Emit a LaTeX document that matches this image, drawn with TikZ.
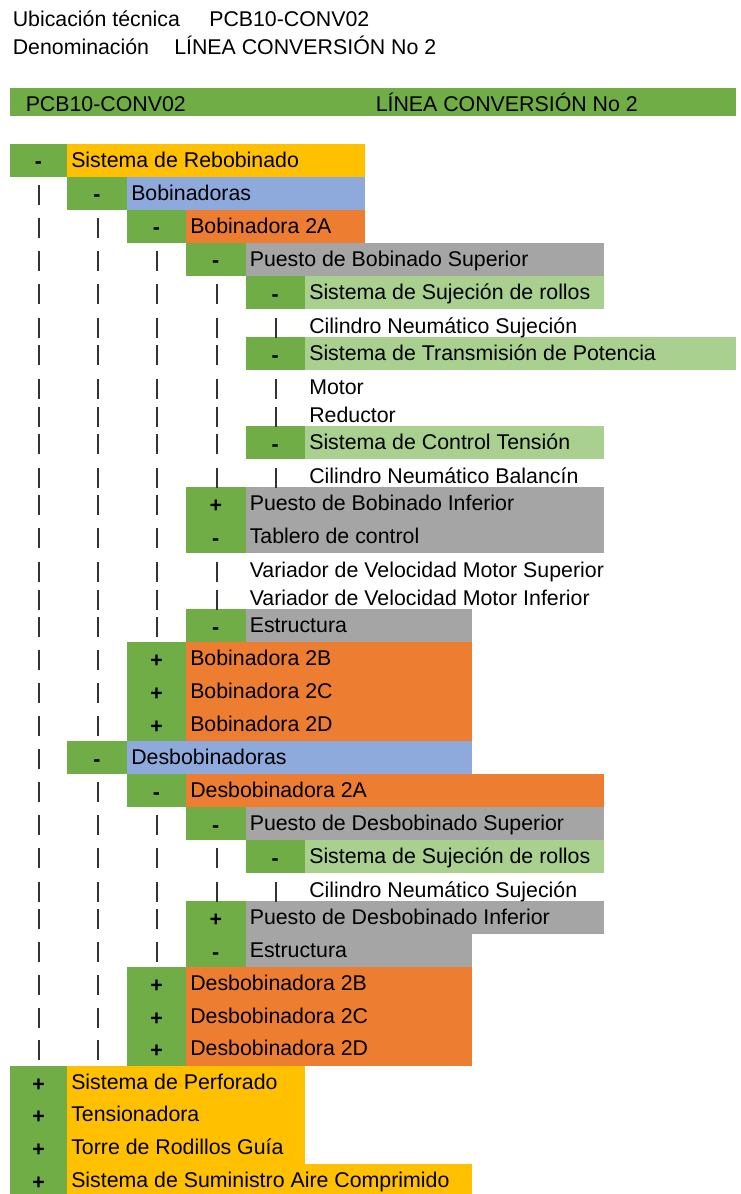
\documentclass[tikz,border=0pt]{standalone}
\usepackage{fontspec}
\setmainfont{Liberation Sans}
\usepackage{tikz}

\definecolor{pmgreen}{HTML}{70AD47}
\definecolor{sysyellow}{HTML}{FFC000}
\definecolor{grpblue}{HTML}{8EA9DB}
\definecolor{machorange}{HTML}{ED7D31}
\definecolor{postgray}{HTML}{A5A5A5}
\definecolor{subgreen}{HTML}{A9D08E}

\begin{document}
\begin{tikzpicture}[x=0.75pt, y=-0.75pt,
    font=\fontsize{16}{19}\selectfont,
    item/.style={anchor=base west, inner sep=0pt},
    sgn/.style={anchor=base, inner sep=0pt, font=\fontsize{16}{19}\selectfont\bfseries},
    bar/.style={draw=black!80, line width=1.2pt}]
                    \useasboundingbox (0,0) rectangle (740,1194);
                    % Title lines
                    \node[item] (ubic) at (12.5,26.7) {Ubicación técnica};
                    \node[item] (ubicval) at (209,26.7) {PCB10-CONV02};
                    \node[item] (denom) at (12.5,54.3) {Denominación};
                    \node[item] (denomval) at (174,54.3) {LÍNEA CONVERSIÓN No 2};
                    % Header bar
                    \fill[pmgreen] (10,88) rectangle (736,116);
                    \node[item] (code) at (25.5,111.7) {PCB10-CONV02};
                    \node[item] (line) at (375.5,111.7) {LÍNEA CONVERSIÓN No 2};
                    % Sign cells
                    \fill[pmgreen] (10,144) rectangle (67,177);
                    \fill[pmgreen] (67,177) rectangle (127,210);
                    \fill[pmgreen] (127,210) rectangle (186,243);
                    \fill[pmgreen] (186,243) rectangle (245.5,276);
                    \fill[pmgreen] (245.5,276) rectangle (305,309);
                    \fill[pmgreen] (245.5,337) rectangle (305,370);
                    \fill[pmgreen] (245.5,426) rectangle (305,459);
                    \fill[pmgreen] (186,487) rectangle (245.5,553);
                    \fill[pmgreen] (186,609) rectangle (245.5,642);
                    \fill[pmgreen] (127,642) rectangle (186,741);
                    \fill[pmgreen] (67,741) rectangle (127,774);
                    \fill[pmgreen] (127,774) rectangle (186,807);
                    \fill[pmgreen] (186,807) rectangle (245.5,840);
                    \fill[pmgreen] (245.5,840) rectangle (305,873);
                    \fill[pmgreen] (186,901) rectangle (245.5,967);
                    \fill[pmgreen] (127,967) rectangle (186,1066);
                    \fill[pmgreen] (10,1066) rectangle (67,1197);
                    % Name cells
                    \fill[sysyellow] (67,144) rectangle (365,177);
                    \fill[grpblue] (127,177) rectangle (365,210);
                    \fill[machorange] (186,210) rectangle (365,243);
                    \fill[postgray] (245.5,243) rectangle (604,276);
                    \fill[subgreen] (305,276) rectangle (604,309);
                    \fill[subgreen] (305,337) rectangle (736,370);
                    \fill[subgreen] (305,426) rectangle (604,459);
                    \fill[postgray] (245.5,487) rectangle (604,553);
                    \fill[postgray] (245.5,609) rectangle (472,642);
                    \fill[machorange] (186,642) rectangle (472,741);
                    \fill[grpblue] (127,741) rectangle (472,774);
                    \fill[machorange] (186,774) rectangle (604,807);
                    \fill[postgray] (245.5,807) rectangle (604,840);
                    \fill[subgreen] (305,840) rectangle (604,873);
                    \fill[postgray] (245.5,901) rectangle (472,967);
                    \fill[postgray] (245.5,901) rectangle (604,934);
                    \fill[machorange] (186,967) rectangle (472,1066);
                    \fill[sysyellow] (67,1066) rectangle (305,1164);
                    \fill[sysyellow] (67,1164) rectangle (472,1197);
                    % Tree bars
                    \foreach \b in {200.5,233.5,266.5,299.5,333,360.5,394,422,449.5,483,510.5,543.5,577,605,632.5,665.5,698.5,731.5,764.5,797.5,830.5,863.5,897,924.5,957.5,990.5,1023.5,1055.5}
                        \draw[bar] (38.7,\b-15.5) -- (38.7,\b+4.5);
                    \foreach \b in {233.5,266.5,299.5,333,360.5,394,422,449.5,483,510.5,543.5,577,605,632.5,665.5,698.5,731.5,797.5,830.5,863.5,897,924.5,957.5,990.5,1023.5,1055.5}
                        \draw[bar] (98,\b-15.5) -- (98,\b+4.5);
                    \foreach \b in {266.5,299.5,333,360.5,394,422,449.5,483,510.5,543.5,577,605,632.5,830.5,863.5,897,924.5,957.5}
                        \draw[bar] (157,\b-15.5) -- (157,\b+4.5);
                    \foreach \b in {299.5,333,360.5,394,422,449.5,483,577,605,863.5,897}
                        \draw[bar] (217,\b-15.5) -- (217,\b+4.5);
                    \foreach \b in {333,394,422,483,897}
                        \draw[bar] (276,\b-15.5) -- (276,\b+4.5);
                    % Bobinadoras
                    \node[sgn] (reb-s) at (38.5,169) {-};
                    \node[item] (reb) at (71,167.5) {Sistema de Rebobinado};
                    \node[sgn] (bob-s) at (97,202) {-};
                    \node[item] (bob) at (131,200.5) {Bobinadoras};
                    \node[sgn] (bob2a-s) at (156.5,235) {-};
                    \node[item] (bob2a) at (190,233.5) {Bobinadora 2A};
                    \node[sgn] (pbs-s) at (215.75,268) {-};
                    \node[item] (pbs) at (249.5,266.5) {Puesto de Bobinado Superior};
                    \node[sgn] (suj-s) at (275.25,301) {-};
                    \node[item] (suj) at (309,299.5) {Sistema de Sujeción de rollos};
                    \node[item] (cil) at (309,333) {Cilindro Neumático Sujeción};
                    \node[sgn] (trans-s) at (275.25,362) {-};
                    \node[item] (trans) at (309,360.5) {Sistema de Transmisión de Potencia};
                    \node[item] (motor) at (309,394) {Motor};
                    \node[item] (red) at (309,422) {Reductor};
                    \node[sgn] (tens-s) at (275.25,451) {-};
                    \node[item] (tens) at (309,449.5) {Sistema de Control Tensión};
                    \node[item] (bal) at (309,483) {Cilindro Neumático Balancín};
                    \node[sgn] (pbi-s) at (215.75,512) {+};
                    \node[item] (pbi) at (249.5,510.5) {Puesto de Bobinado Inferior};
                    \node[sgn] (tab-s) at (215.75,545) {-};
                    \node[item] (tab) at (249.5,543.5) {Tablero de control};
                    \node[item] (vsup) at (249.5,577) {Variador de Velocidad Motor Superior};
                    \node[item] (vinf) at (249.5,605) {Variador de Velocidad Motor Inferior};
                    \node[sgn] (est-s) at (215.75,634) {-};
                    \node[item] (est) at (249.5,632.5) {Estructura};
                    \node[sgn] (bob2b-s) at (156.5,667) {+};
                    \node[item] (bob2b) at (190,665.5) {Bobinadora 2B};
                    \node[sgn] (bob2c-s) at (156.5,700) {+};
                    \node[item] (bob2c) at (190,698.5) {Bobinadora 2C};
                    \node[sgn] (bob2d-s) at (156.5,733) {+};
                    \node[item] (bob2d) at (190,731.5) {Bobinadora 2D};
                    % Desbobinadoras
                    \node[sgn] (desb-s) at (97,766) {-};
                    \node[item] (desb) at (131,764.5) {Desbobinadoras};
                    \node[sgn] (desb2a-s) at (156.5,799) {-};
                    \node[item] (desb2a) at (190,797.5) {Desbobinadora 2A};
                    \node[sgn] (pds-s) at (215.75,832) {-};
                    \node[item] (pds) at (249.5,830.5) {Puesto de Desbobinado Superior};
                    \node[sgn] (dsuj-s) at (275.25,865) {-};
                    \node[item] (dsuj) at (309,863.5) {Sistema de Sujeción de rollos};
                    \node[item] (dcil) at (309,897) {Cilindro Neumático Sujeción};
                    \node[sgn] (pdi-s) at (215.75,926) {+};
                    \node[item] (pdi) at (249.5,924.5) {Puesto de Desbobinado Inferior};
                    \node[sgn] (dest-s) at (215.75,959) {-};
                    \node[item] (dest) at (249.5,957.5) {Estructura};
                    \node[sgn] (desb2b-s) at (156.5,992) {+};
                    \node[item] (desb2b) at (190,990.5) {Desbobinadora 2B};
                    \node[sgn] (desb2c-s) at (156.5,1025) {+};
                    \node[item] (desb2c) at (190,1023.5) {Desbobinadora 2C};
                    \node[sgn] (desb2d-s) at (156.5,1057) {+};
                    \node[item] (desb2d) at (190,1055.5) {Desbobinadora 2D};
                    % Other systems
                    \node[sgn] (perf-s) at (38.5,1091) {+};
                    \node[item] (perf) at (71,1089.5) {Sistema de Perforado};
                    \node[sgn] (tensn-s) at (38.5,1123) {+};
                    \node[item] (tensn) at (71,1121.5) {Tensionadora};
                    \node[sgn] (torre-s) at (38.5,1156) {+};
                    \node[item] (torre) at (71,1154.5) {Torre de Rodillos Guía};
                    \node[sgn] (aire-s) at (38.5,1189) {+};
                    \node[item] (aire) at (71,1187.5) {Sistema de Suministro Aire Comprimido};
                \end{tikzpicture}
\end{document}
